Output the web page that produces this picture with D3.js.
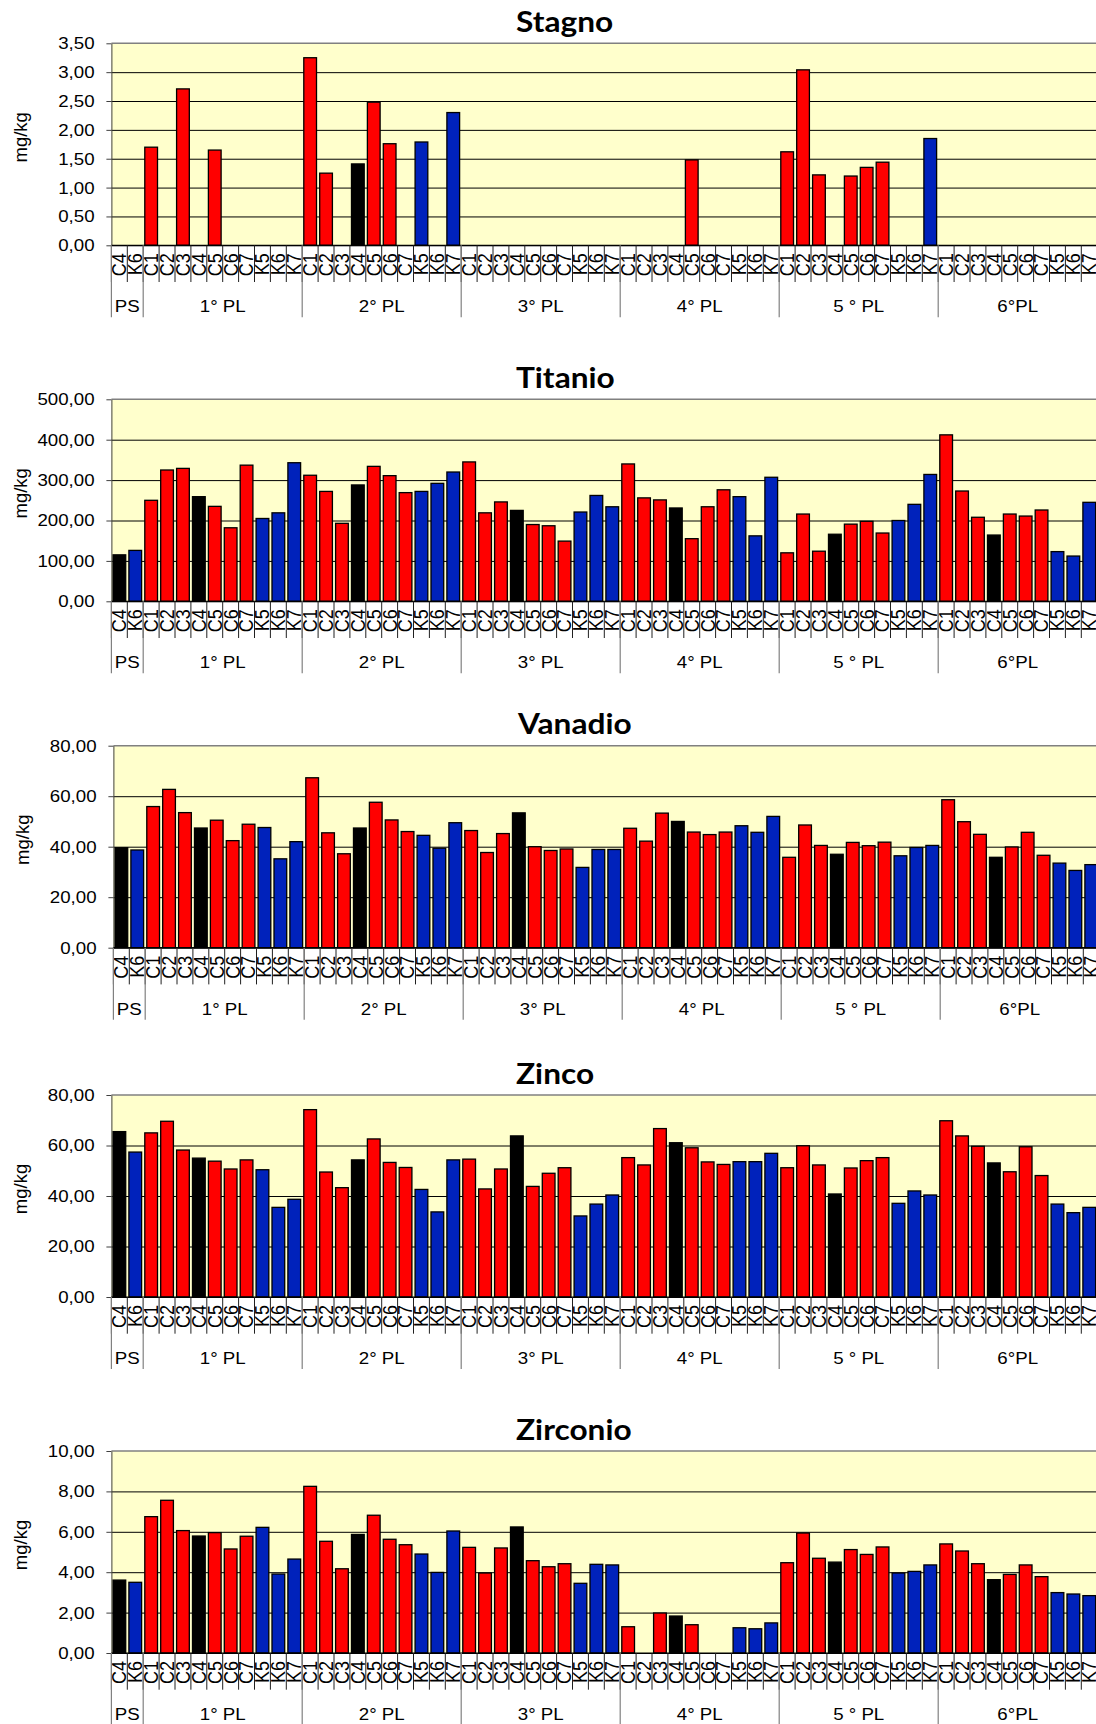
<!DOCTYPE html>
<html>
<head>
<meta charset="utf-8">
<script src="https://cdn.jsdelivr.net/npm/d3@7"></script>
<style>
body { margin: 0; background: #fff; }
</style>
</head>
<body>
<div id="chart"></div>
<script>
// sample groups along the x axis
var groups = ["PS", "1° PL", "2° PL", "3° PL", "4° PL", "5 ° PL", "6°PL"];
var samplesPS = ["C4", "K6"];
var samplesPL = ["C1", "C2", "C3", "C4", "C5", "C6", "C7", "K5", "K6", "K7"];

var titles = ["Stagno", "Titanio", "Vanadio", "Zinco", "Zirconio"];
var yLabel = "mg/kg";

// values in mg/kg, order: PS, 1° PL ... 6°PL (null = no bar)
var stagno = [null, null,
    1.70, null, 2.71, null, 1.65, null, null, null, null, null,
    3.25, 1.25, null, 1.41, 2.48, 1.76, null, 1.79, null, 2.30,
    null, null, null, null, null, null, null, null, null, null,
    null, null, null, null, 1.48, null, null, null, null, null,
    1.62, 3.04, 1.22, null, 1.20, 1.35, 1.44, null, null, 1.85,
    null, null, null, null, null, null, null, null, null, null];

var titanio = [115, 126,
    250, 325, 329, 259, 235, 182, 337, 205, 219, 343,
    312, 272, 193, 288, 334, 311, 269, 272, 292, 320,
    345, 219, 246, 225, 190, 187, 149, 221, 262, 234,
    340, 256, 251, 231, 155, 234, 276, 259, 162, 307,
    120, 216, 124, 166, 191, 198, 169, 200, 240, 314,
    412, 273, 208, 164, 216, 211, 226, 123, 112, 245];

var vanadio = [39.6, 38.7,
    55.9, 62.7, 53.5, 47.4, 50.5, 42.4, 48.9, 47.6, 35.2, 42.0,
    67.3, 45.5, 37.2, 47.4, 57.6, 50.6, 46.0, 44.5, 39.4, 49.5,
    46.4, 37.7, 45.2, 53.4, 40.0, 38.5, 39.1, 31.8, 38.9, 38.9,
    47.3, 42.2, 53.3, 50.0, 45.8, 44.8, 45.8, 48.3, 45.7, 52.0,
    35.8, 48.6, 40.5, 37.0, 41.7, 40.4, 41.8, 36.4, 39.7, 40.5,
    58.6, 49.9, 44.9, 35.8, 39.9, 45.7, 36.6, 33.5, 30.6, 32.9];

var zinco = [65.5, 57.4,
    65.0, 69.6, 58.2, 55.0, 53.8, 50.7, 54.3, 50.4, 35.5, 38.7,
    74.2, 49.5, 43.3, 54.3, 62.6, 53.3, 51.3, 42.6, 33.7, 54.3,
    54.6, 42.8, 50.7, 63.8, 43.8, 49.0, 51.2, 32.1, 36.8, 40.4,
    55.2, 52.3, 66.7, 61.1, 59.1, 53.5, 52.5, 53.6, 53.6, 56.9,
    51.2, 59.9, 52.3, 40.8, 51.1, 54.0, 55.2, 37.1, 42.0, 40.4,
    69.8, 63.8, 59.7, 53.1, 49.6, 59.5, 48.1, 36.8, 33.4, 35.5];

var zirconio = [3.61, 3.50,
    6.75, 7.56, 6.06, 5.79, 5.96, 5.15, 5.78, 6.22, 3.91, 4.65,
    8.25, 5.53, 4.17, 5.87, 6.82, 5.63, 5.36, 4.90, 3.99, 6.04,
    5.23, 3.96, 5.20, 6.24, 4.57, 4.27, 4.42, 3.45, 4.39, 4.36,
    1.30, null, 1.98, 1.83, 1.40, null, null, 1.25, 1.20, 1.49,
    4.47, 5.94, 4.69, 4.50, 5.12, 4.88, 5.25, 3.96, 4.04, 4.36,
    5.40, 5.05, 4.42, 3.63, 3.89, 4.36, 3.78, 2.99, 2.92, 2.84];

// y axis tick values for each chart
var ticksStagno = [0, 0.5, 1, 1.5, 2, 2.5, 3, 3.5];
var ticksTitanio = [0, 100, 200, 300, 400, 500];
var ticksVanadio = [0, 20, 40, 60, 80];
var ticksZinco = [0, 20, 40, 60, 80];
var ticksZirconio = [0, 2, 4, 6, 8, 10];

function init() {

    var w = 1096;
    var h = 1724;

    var series = [stagno, titanio, vanadio, zinco, zirconio];
    var tickSets = [ticksStagno, ticksTitanio, ticksVanadio, ticksZinco, ticksZirconio];

    // panel placement
    var tops = [43.3, 399.3, 745.7, 1095, 1451];
    var lefts = [111.4, 111.4, 113.4, 111.4, 111.4];
    var slot = 15.9;
    var plotH = 202;
    var sx = 1.1; // the original picture is a bit stretched sideways
    var font = "'Liberation Sans', Arial, sans-serif";

    // flat list of categories
    var cats = [];
    groups.forEach(function(g, gi) {
        var s = gi == 0 ? samplesPS : samplesPL;
        s.forEach(function(c) {
            cats.push({ group: gi, sample: c });
        });
    });

    var fmt = d3.formatLocale({ decimal: ",", thousands: ".", grouping: [3], currency: ["", ""] }).format(".2f");

    function barColor(s) {
        if (s == "C4") return "#000000";
        if (s[0] == "K") return "#0022BB";
        return "#FF0000";
    }

    var svg = d3.select("#chart")
                .append("svg")
                .attr("width", w)
                .attr("height", h);

    series.forEach(function(values, pi) {
        var top = tops[pi];
        var left = lefts[pi];
        var plotW = slot * cats.length;
        var zero = top + plotH;

        var x = d3.scaleBand()
                    .domain(d3.range(cats.length))
                    .range([left, left + plotW])
                    .paddingInner(0.2)
                    .paddingOuter(0.1);

        var y = d3.scaleLinear()
                    .domain([0, d3.max(tickSets[pi])])
                    .range([zero, top]);

        var g = svg.append("g");

        // plot background
        g.append("rect")
            .attr("x", left)
            .attr("y", top)
            .attr("width", plotW)
            .attr("height", plotH)
            .attr("fill", "#FFFFCC");

        // grid lines
        var grid = g.append("g")
            .attr("transform", "translate(" + left + ",0)")
            .call(d3.axisLeft(y).tickValues(tickSets[pi].slice(0, -1)).tickSize(-plotW).tickFormat(""));
        grid.select(".domain").remove();
        grid.selectAll("line").attr("stroke", "#000").attr("stroke-width", 1);

        // top border
        g.append("line")
            .attr("x1", left).attr("x2", left + plotW)
            .attr("y1", top).attr("y2", top)
            .attr("stroke", "#808080")
            .attr("stroke-width", 1.5);

        // bars
        var data = values.map(function(v, i) { return { i: i, v: v }; })
                         .filter(function(d) { return d.v != null; });

        g.selectAll("rect.bar")
            .data(data)
            .enter()
            .append("rect")
            .attr("class", "bar")
            .attr("x", function(d) { return x(d.i); })
            .attr("y", function(d) { return y(d.v); })
            .attr("width", x.bandwidth())
            .attr("height", function(d) { return zero - y(d.v); })
            .attr("fill", function(d) { return barColor(cats[d.i].sample); })
            .attr("stroke", "#000")
            .attr("stroke-width", 1.3);

        // y axis
        var yAxis = g.append("g")
            .attr("transform", "translate(" + left + ",0)")
            .call(d3.axisLeft(y).tickValues(tickSets[pi]).tickFormat(fmt).tickSizeInner(5).tickSizeOuter(0).tickPadding(10.3));
        yAxis.select(".domain").attr("stroke", "#404040");
        yAxis.selectAll("line").attr("stroke", "#404040");
        yAxis.selectAll("text")
            .attr("transform", "scale(" + sx + ",1)")
            .style("font-family", font)
            .style("font-size", "17px")
            .attr("fill", "#000");

        // y axis title
        g.append("text")
            .attr("transform", "translate(" + (left - 91) + "," + (top + plotH / 2 - 7) + ") rotate(-90)")
            .attr("text-anchor", "middle")
            .attr("dy", "0.35em")
            .style("font-family", font)
            .style("font-size", "18.5px")
            .text(yLabel);

        // zero line
        g.append("line")
            .attr("x1", left).attr("x2", left + plotW)
            .attr("y1", zero).attr("y2", zero)
            .attr("stroke", "#000")
            .attr("stroke-width", 1.2);

        // category labels
        var xAxis = g.append("g")
            .attr("transform", "translate(0," + zero + ")")
            .call(d3.axisBottom(x).tickSize(0).tickFormat(function(i) { return cats[i].sample; }));
        xAxis.select(".domain").remove();
        xAxis.selectAll("text")
            .attr("transform", "scale(" + sx + ",1) rotate(-90)")
            .attr("text-anchor", "end")
            .attr("x", -8)
            .attr("y", 6.3)
            .attr("dy", 0)
            .style("font-family", font)
            .style("font-size", "18px")
            .attr("fill", "#000");

        // category separators
        g.selectAll("line.cat")
            .data(d3.range(cats.length + 1))
            .enter()
            .append("line")
            .attr("class", "cat")
            .attr("x1", function(i) { return left + i * x.step(); })
            .attr("x2", function(i) { return left + i * x.step(); })
            .attr("y1", zero)
            .attr("y2", zero + 36.7)
            .attr("stroke", "#202020")
            .attr("stroke-width", 1);

        // group separators and labels
        var starts = [];
        var n = 0;
        groups.forEach(function(gr, gi) {
            var size = gi == 0 ? samplesPS.length : samplesPL.length;
            starts.push({ name: gr, a: n, b: n + size });
            n += size;
        });

        g.selectAll("line.grp")
            .data(starts)
            .enter()
            .append("line")
            .attr("class", "grp")
            .attr("x1", function(d) { return left + d.a * x.step(); })
            .attr("x2", function(d) { return left + d.a * x.step(); })
            .attr("y1", zero)
            .attr("y2", zero + 72)
            .attr("stroke", "#808080")
            .attr("stroke-width", 1.2);

        g.selectAll("text.grp")
            .data(starts)
            .enter()
            .append("text")
            .attr("class", "grp")
            .attr("transform", function(d) {
                return "translate(" + (left + (d.a + d.b) / 2 * x.step()) + "," + (zero + 67) + ") scale(" + sx + ",1)";
            })
            .attr("text-anchor", "middle")
            .style("font-family", font)
            .style("font-size", "17px")
            .text(function(d) { return d.name; });

        // title
        g.append("text")
            .attr("transform", "translate(" + (left + 404.6) + "," + (top - 11.5) + ") scale(1.13,1)")
            .style("font-family", "Lato, 'Open Sans', sans-serif")
            .style("font-weight", "bold")
            .style("font-size", "28px")
            .text(titles[pi]);
    });
}

window.onload = init;
</script>
</body>
</html>
